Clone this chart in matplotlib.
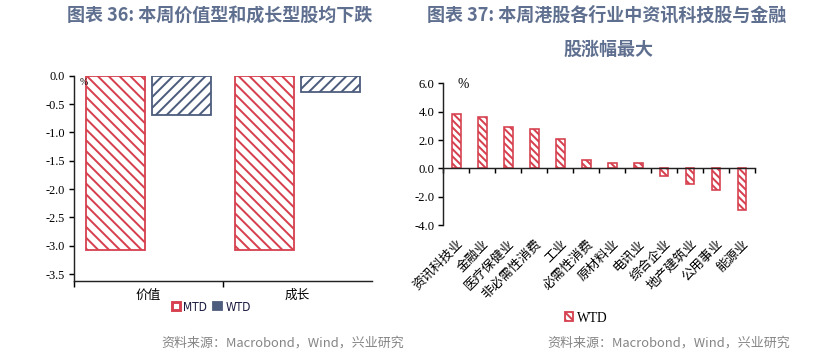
import matplotlib
matplotlib.use("Agg")
import matplotlib.pyplot as plt
from matplotlib.patches import Patch
import numpy as np

# 图表36 数据
style_cats = ['价值', '成长']
style_mtd = [-3.08, -3.08]
style_wtd = [-0.69, -0.29]

# 图表37 数据
ind_cats = ['资讯科技业', '金融业', '医疗保健业', '非必需性消费', '工业', '必需性消费',
            '原材料业', '电讯业', '综合企业', '地产建筑业', '公用事业', '能源业']
ind_wtd = [3.83, 3.62, 2.91, 2.77, 2.07, 0.61, 0.40, 0.35, -0.56, -1.08, -1.55, -2.91]

RED = '#d6404f'
BLUE = '#4d5d7d'
TITLE_C = '#5f6f8f'
CJK = ['Noto Sans CJK SC', 'DejaVu Sans']
SERIF = ['Liberation Serif', 'DejaVu Serif']

plt.rcParams['font.family'] = SERIF
plt.rcParams['axes.unicode_minus'] = False
plt.rcParams['hatch.linewidth'] = 1.1

DPI = 130
fig = plt.figure(figsize=(831.1 / DPI, 354.1 / DPI), dpi=DPI)

# ---------- 左图 ----------
ax1 = fig.add_axes([0.089, 0.2054, 0.3586, 0.5808])
x = np.arange(len(style_cats))
ax1.bar(x - 0.222, style_mtd, 0.4, facecolor='white', edgecolor=RED, hatch='\\' * 4, linewidth=1.0)
ax1.bar(x + 0.222, style_wtd, 0.4, facecolor='white', edgecolor=BLUE, hatch='/' * 4, linewidth=1.0)
ax1.set_xlim(-0.5, 1.5)
ax1.set_ylim(-3.63, 0)
ax1.set_yticks(np.arange(0, -3.51, -0.5))
ax1.set_yticklabels(['%.1f' % v for v in np.arange(0, -3.51, -0.5)], fontsize=6.8)
ax1.set_xticks(x)
ax1.set_xticklabels(style_cats, family=CJK, fontsize=7)
ax1.set_xticks([-0.5, 0.5], minor=True)
ax1.tick_params(axis='x', which='major', length=0, pad=4)
ax1.tick_params(axis='x', which='minor', length=3.5, width=0.8, direction='out')
ax1.tick_params(axis='y', length=3, width=0.8, direction='out', pad=2)
for s in ['top', 'right']:
    ax1.spines[s].set_visible(False)
for s in ['left', 'bottom']:
    ax1.spines[s].set_linewidth(0.8)
    ax1.spines[s].set_color('#222222')
ax1.text(0.02, 0.965, '%', transform=ax1.transAxes, fontsize=5.5, va='center', ha='left')

leg1 = fig.legend(handles=[Patch(facecolor='white', edgecolor=RED, linewidth=1.6, label='MTD'),
                           Patch(facecolor=BLUE, edgecolor=BLUE, hatch='/' * 4, label='WTD')],
                  loc='center', bbox_to_anchor=(211 / 831, 1 - 307 / 354), ncol=2, frameon=False,
                  handlelength=0.7, handleheight=0.7, handletextpad=0.3, columnspacing=0.5,
                  prop={'family': ['Liberation Sans Narrow', 'DejaVu Sans'], 'size': 6.6,
                        'stretch': 'condensed'})
for t in leg1.get_texts():
    t.set_color('#1a1a40')

# ---------- 右图 ----------
ax2 = fig.add_axes([0.5335, 0.3636, 0.3751, 0.4011])
xi = np.arange(len(ind_cats))
ax2.bar(xi, ind_wtd, 0.33, facecolor='white', edgecolor=RED, hatch='\\' * 6, linewidth=0.9)
ax2.set_xlim(-0.5, len(ind_cats) - 0.5)
ax2.set_ylim(-4, 6)
ax2.set_yticks(np.arange(-4, 6.1, 2))
ax2.set_yticklabels(['%.1f' % v for v in np.arange(-4, 6.1, 2)], fontsize=7)
ax2.spines['bottom'].set_position(('data', 0))
for s in ['top', 'right']:
    ax2.spines[s].set_visible(False)
for s in ['left', 'bottom']:
    ax2.spines[s].set_linewidth(0.8)
    ax2.spines[s].set_color('#222222')
ax2.set_xticks(xi)
ax2.set_xticklabels(ind_cats, family=CJK, fontsize=7.2, rotation=45, ha='right',
                    rotation_mode='anchor')
ax2.set_xticks(np.arange(-0.5, len(ind_cats)), minor=True)
ax2.tick_params(axis='x', which='major', length=0, pad=38)
ax2.tick_params(axis='x', which='minor', length=2.5, width=0.8, direction='out')
ax2.tick_params(axis='y', length=3, width=0.8, direction='out', pad=2)
ax2.text(0.044, 0.995, '%', transform=ax2.transAxes, fontsize=7.5, va='center', ha='left')

leg2 = fig.legend(handles=[Patch(facecolor='white', edgecolor=RED, hatch='\\' * 6, label='WTD')],
                  loc='center', bbox_to_anchor=(586 / 831, 1 - 318 / 354), frameon=False,
                  handlelength=0.6, handleheight=0.7, handletextpad=0.3,
                  prop={'family': SERIF, 'size': 7.5})

# ---------- 标题与来源 ----------
fig.text(220 / 831, 1 - 15 / 354, '图表 36: 本周价值型和成长型股均下跌', family=CJK,
         fontsize=10, fontweight='bold', color=TITLE_C, ha='center', va='center')
fig.text(607 / 831, 1 - 15 / 354, '图表 37: 本周港股各行业中资讯科技股与金融', family=CJK,
         fontsize=10, fontweight='bold', color=TITLE_C, ha='center', va='center')
fig.text(608 / 831, 1 - 49 / 354, '股涨幅最大', family=CJK,
         fontsize=10, fontweight='bold', color=TITLE_C, ha='center', va='center')
fig.text(283 / 831, 1 - 343 / 354, '资料来源：Macrobond，Wind，兴业研究', family=CJK,
         fontsize=7.2, color='#858585', ha='center', va='center')
fig.text(669 / 831, 1 - 343 / 354, '资料来源：Macrobond，Wind，兴业研究', family=CJK,
         fontsize=7.2, color='#858585', ha='center', va='center')

fig.savefig('out.png', dpi=DPI, facecolor='white')
